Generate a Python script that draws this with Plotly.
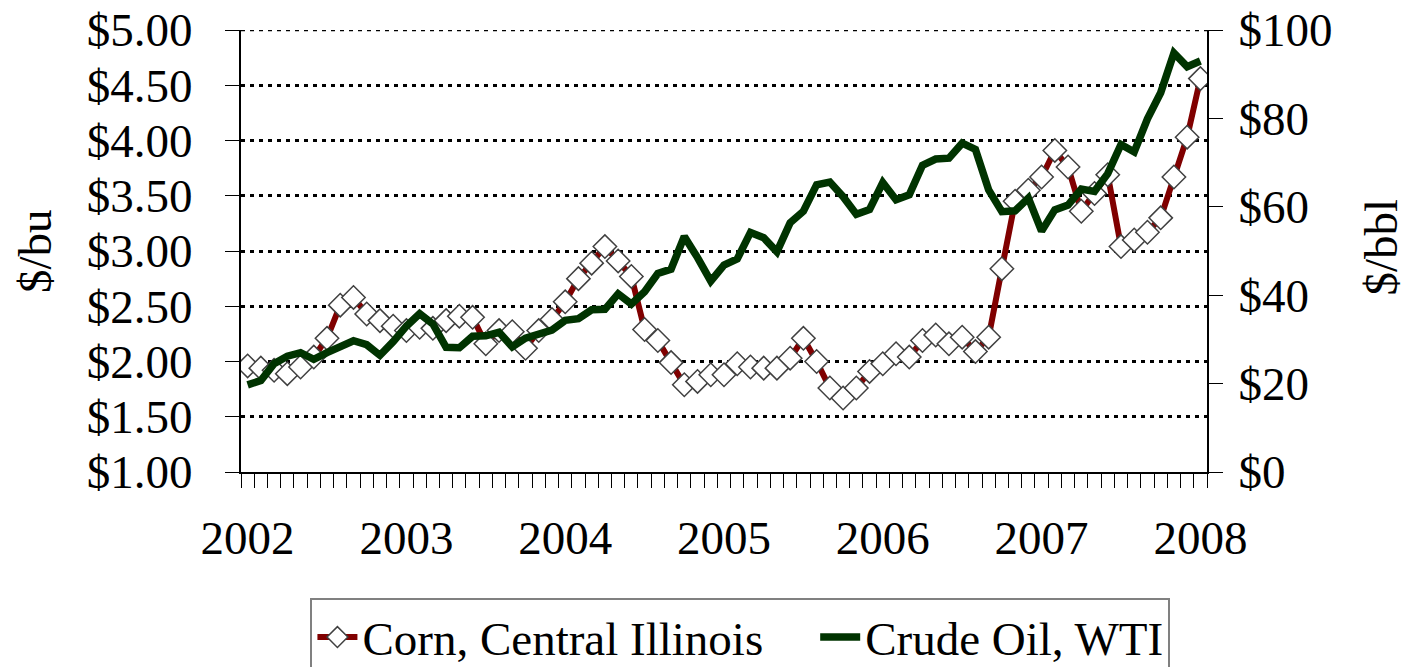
import plotly.graph_objects as go

years = ["2002", "2003", "2004", "2005", "2006", "2007", "2008"]

# Monthly, Jan 2002 .. Jan 2008 (73 months)
corn = [
    1.96, 1.94, 1.92, 1.89, 1.95, 2.04, 2.21, 2.51, 2.58, 2.43, 2.37, 2.32,
    2.28, 2.31, 2.30, 2.37, 2.41, 2.40, 2.16, 2.28, 2.27, 2.12, 2.28, 2.38,
    2.54, 2.75, 2.89, 3.04, 2.91, 2.77, 2.29, 2.19, 1.99, 1.79, 1.82, 1.88,
    1.88, 1.98, 1.95, 1.94, 1.94, 2.03, 2.21, 2.00, 1.76, 1.67, 1.76, 1.91,
    1.98, 2.07, 2.04, 2.19, 2.24, 2.16, 2.22, 2.09, 2.22, 2.84, 3.45, 3.55,
    3.67, 3.91, 3.76, 3.36, 3.52, 3.69, 3.04, 3.10, 3.17, 3.30, 3.67, 4.03,
    4.56,
]

oil = [
    19.7, 20.7, 24.5, 26.2, 27.0, 25.5, 27.0, 28.4, 29.7, 28.8, 26.4, 29.5,
    33.0, 35.8, 33.5, 28.2, 28.1, 30.7, 30.8, 31.6, 28.3, 30.3, 31.1, 32.1,
    34.3, 34.7, 36.7, 36.8, 40.3, 38.0, 40.8, 44.9, 45.9, 53.3, 48.5, 43.2,
    46.8, 48.2, 54.2, 53.0, 49.8, 56.4, 59.0, 65.0, 65.6, 62.3, 58.3, 59.4,
    65.5, 61.6, 62.7, 69.4, 70.8, 71.0, 74.4, 73.0, 63.8, 58.9, 59.1, 62.0,
    54.5, 59.3, 60.4, 64.0, 63.5, 67.5, 74.1, 72.4, 79.9, 85.8, 94.8, 91.7,
    93.0,
]

months = list(range(len(corn)))
year_pos = [12 * k for k in range(len(years))]
corn_range = [1, 5]
oil_range = [0, 100]

FONT = "Liberation Serif"
FS = 47
NB = "\u00a0"

fig = go.Figure()
fig.add_trace(go.Scatter(
    x=months, y=corn, name="Corn, Central Illinois" + NB * 4,
    mode="lines+markers",
    line=dict(color="#800000", width=6),
    marker=dict(symbol="diamond", size=18, color="white",
                line=dict(color="#404040", width=1.5)),
    yaxis="y",
))
fig.add_trace(go.Scatter(
    x=months, y=oil, name="Crude Oil, WTI", mode="lines",
    line=dict(color="#003300", width=7.5),
    yaxis="y2",
))

# dotted gridline along the top edge ($5.00)
fig.add_shape(type="line", xref="paper", yref="y", x0=0, x1=1,
              y0=corn_range[1], y1=corn_range[1],
              line=dict(color="black", width=2.5, dash="4px,5px"), layer="below")

fig.update_layout(
    width=1407, height=667,
    margin=dict(l=241, r=200, t=30, b=195, autoexpand=False),
    paper_bgcolor="white", plot_bgcolor="white",
    font=dict(family=FONT, size=FS, color="black"),
    showlegend=True,
    legend=dict(
        orientation="h", x=0.517, xanchor="center", y=-0.285, yanchor="top",
        bordercolor="#808080", borderwidth=2, bgcolor="white",
        font=dict(family=FONT, size=FS, color="black"),
        itemwidth=40,
    ),
    xaxis=dict(
        range=[-0.5, 72.5], tickmode="array", tickvals=year_pos, ticktext=years,
        ticks="", showgrid=False, zeroline=False, automargin=False,
        showline=True, linecolor="black", linewidth=2,
        ticklabelstandoff=24, ticklabeloverflow="allow",
        minor=dict(tickmode="linear", tick0=-0.5, dtick=1, ticks="outside",
                   ticklen=14, tickcolor="black", tickwidth=1, showgrid=False),
    ),
    yaxis=dict(
        range=corn_range, dtick=0.5, tick0=1, tickprefix="$", tickformat=".2f",
        ticks="outside", ticklen=14, tickcolor="black", tickwidth=1,
        showline=True, linecolor="black", linewidth=2,
        showgrid=True, gridcolor="black", gridwidth=2.5, griddash="4px,5px",
        zeroline=False, automargin=False, ticklabelstandoff=23,
        ticklabeloverflow="allow",
    ),
    yaxis2=dict(
        range=oil_range, dtick=20, tick0=0, tickprefix="$",
        overlaying="y", side="right",
        ticks="outside", ticklen=14, tickcolor="black", tickwidth=1,
        showline=True, linecolor="black", linewidth=2,
        showgrid=False, zeroline=False, automargin=False, ticklabelstandoff=6,
        ticklabeloverflow="allow",
    ),
    annotations=[
        dict(text="$/bu", xref="paper", yref="paper", x=-0.2133, y=0.5,
             xanchor="center", yanchor="middle", textangle=-90, showarrow=False,
             font=dict(family=FONT, size=FS, color="black")),
        dict(text="$/bbl", xref="paper", yref="paper", x=1.18, y=0.51,
             xanchor="center", yanchor="middle", textangle=-90, showarrow=False,
             font=dict(family=FONT, size=FS, color="black")),
    ],
)

fig.write_html("out.html",
               config={"displayModeBar": False},
               post_script="document.body.style.margin='0';document.body.style.overflow='hidden';")
